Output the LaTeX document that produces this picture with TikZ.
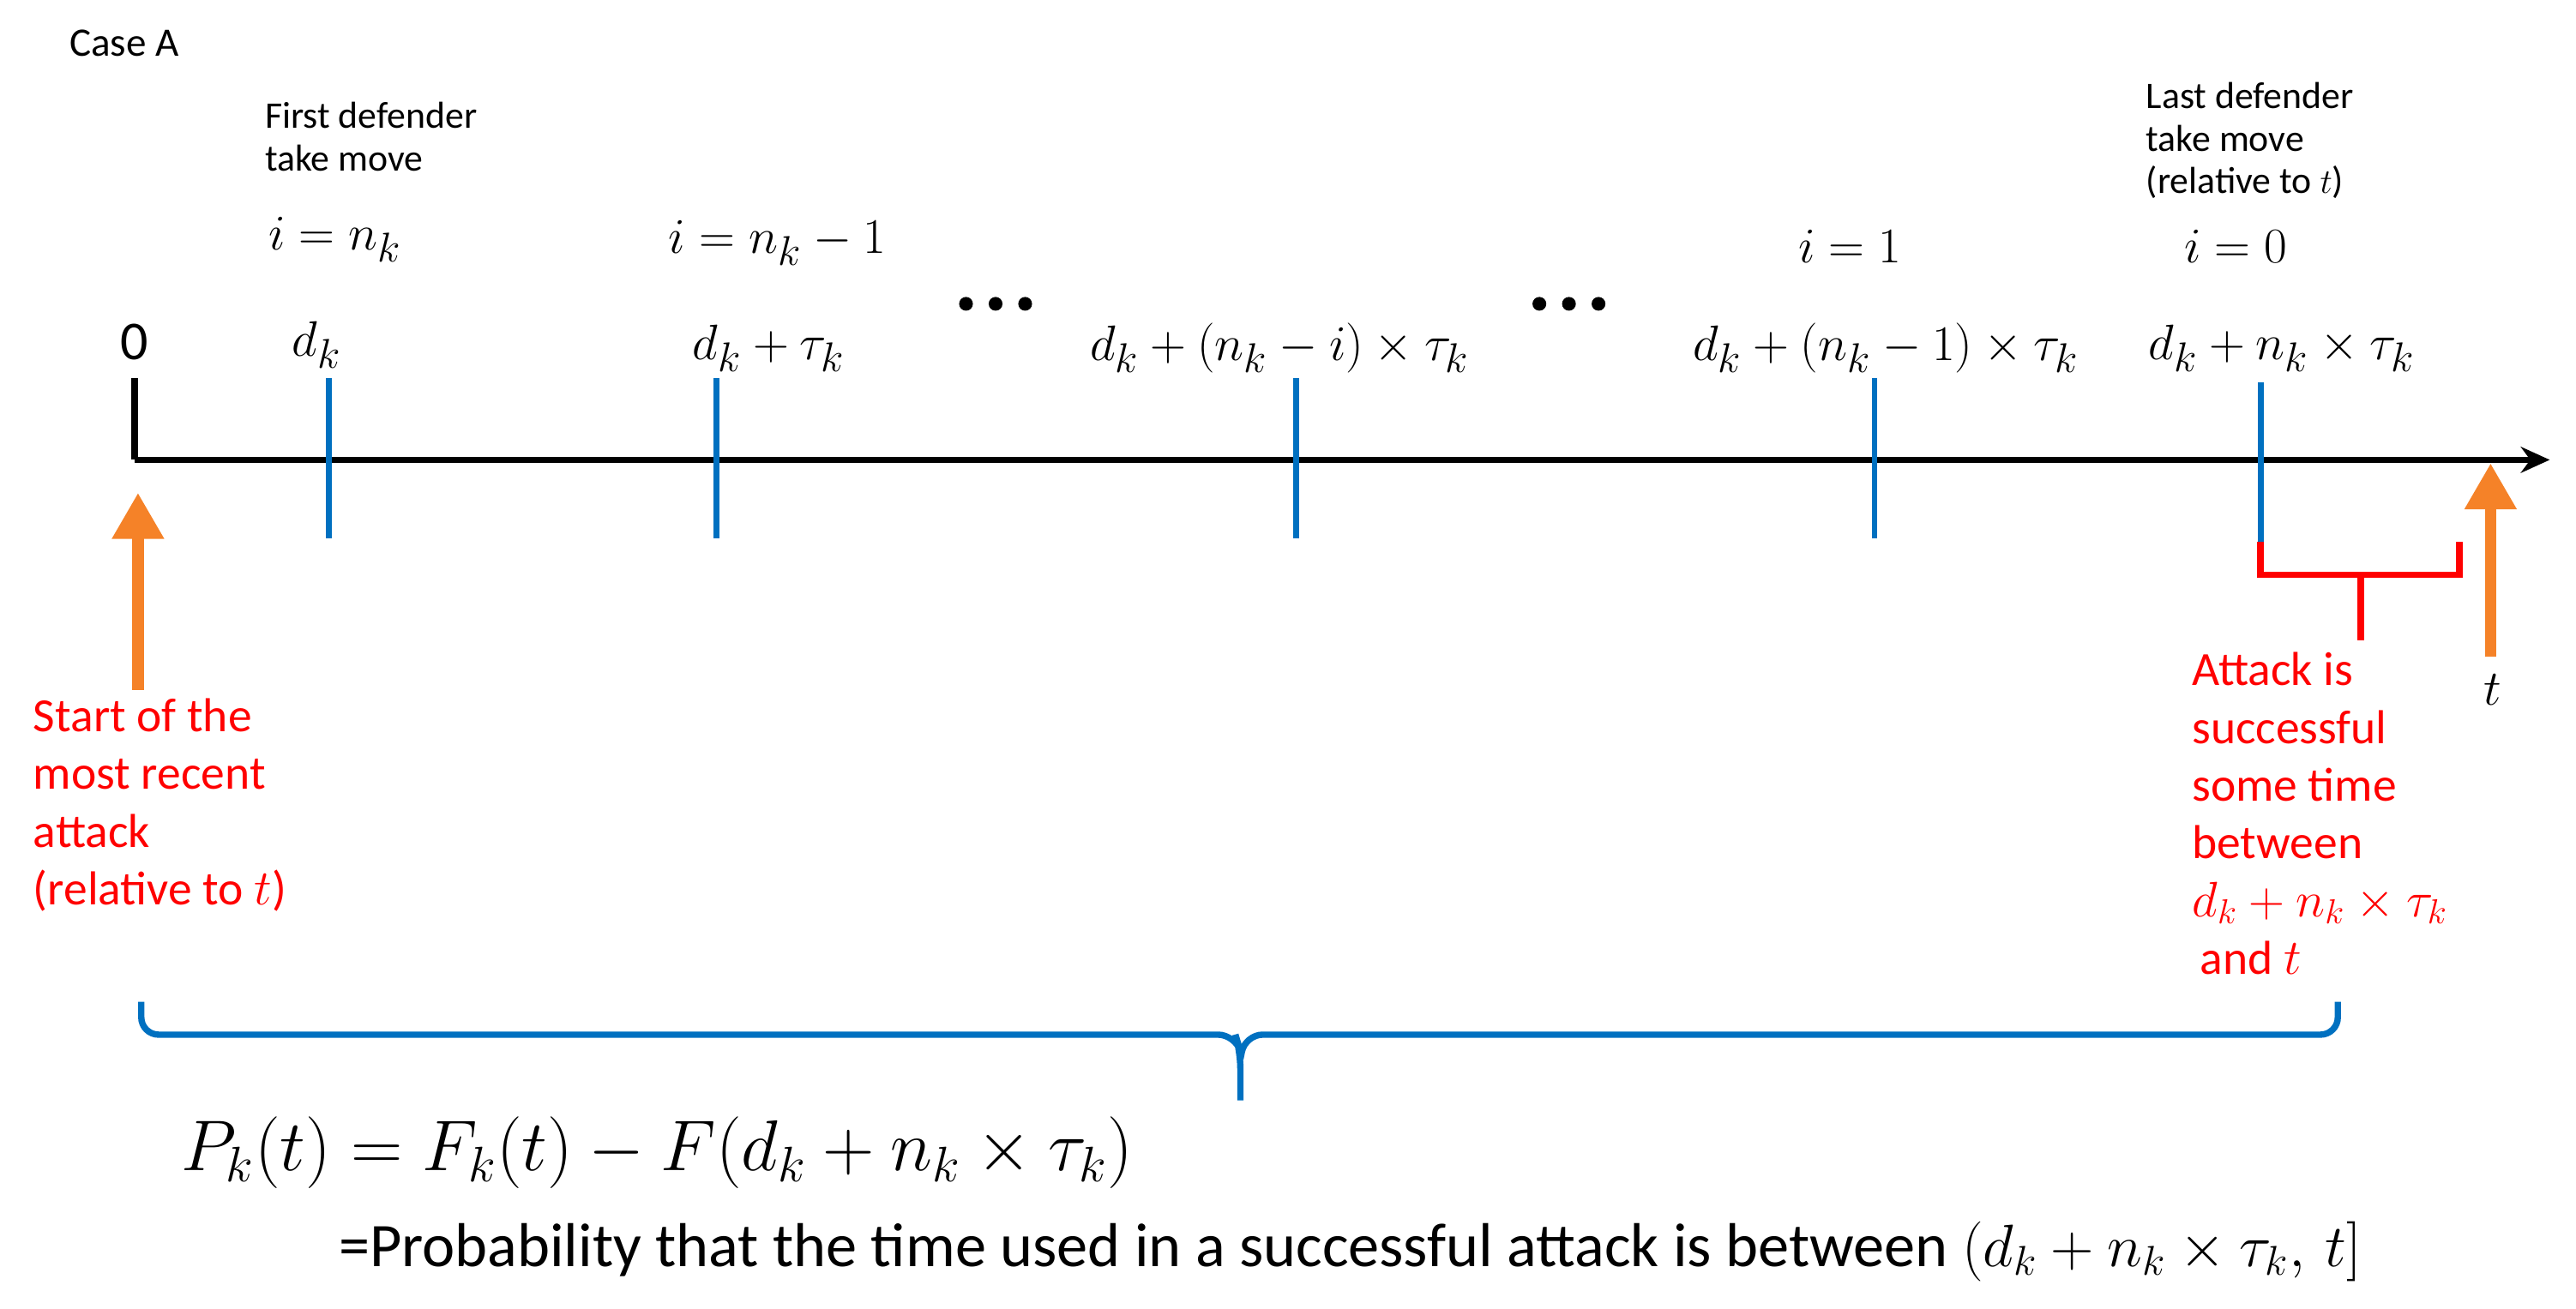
\documentclass[tikz,border=0pt]{standalone}
\usepackage{fontspec}
\setmainfont{Carlito}
\usetikzlibrary{arrows.meta}
\definecolor{mblue}{RGB}{0,112,192}
\definecolor{morange}{RGB}{245,130,40}
\begin{document}
\begin{tikzpicture}[x=0.02cm,y=-0.02cm,
  lbl/.style={font=\fontsize{19}{22}\selectfont},
  toptxt/.style={font=\fontsize{13}{14.7}\selectfont,align=left,anchor=north west,inner sep=0},
  redtxt/.style={text=red,font=\fontsize{16.5}{20}\selectfont,align=left,anchor=north west,inner sep=0},
  tickb/.style={mblue,line width=2pt},
  redline/.style={draw=red,line width=2.2pt},
  oarrow/.style={morange,line width=4pt,-{Triangle[length=16pt,width=17pt]}}]
\useasboundingbox (0,0) rectangle (1568,797);
\node[toptxt,font=\fontsize{14}{16}\selectfont] (case) at (42,18) {Case A};
\node[toptxt] (fd) at (161,62) {First defender\\take move};
\node[toptxt] (ld) at (1306,50) {Last defender\\take move\\(relative to $t$)};
% axis
\coordinate (a0) at (82,280);
\coordinate (aend) at (1552,280);
\draw[line width=2pt,-{Stealth[length=10pt,width=9pt]}] (a0) -- (aend);
\draw[line width=2.5pt] (82,230) -- (a0);
\foreach \x in {200,436,789,1141}{
  \draw[tickb] (\x,230) -- (\x,328);}
\draw[tickb] (1376,233) -- (1376,330);
% labels
\node[lbl] (z) at (82,208) {0};
\node[lbl] (l1) at (193,210) {$d_k$};
\node[lbl] (l2) at (468,212) {$d_k+\tau_k$};
\node[lbl] (l3) at (779,212) {$d_k+(n_k-i)\times\tau_k$};
\node[lbl] (l4) at (1148,212) {$d_k+(n_k-1)\times\tau_k$};
\node[lbl] (l5) at (1389,212) {$d_k+n_k\times\tau_k$};
\node[lbl] (i1) at (204,146) {$i=n_k$};
\node[lbl] (i2) at (473,148) {$i=n_k-1$};
\node[lbl] (i3) at (1126,150) {$i=1$};
\node[lbl] (i4) at (1361,150) {$i=0$};
\foreach \c in {588,606,624,937,955,973}{\fill (\c,185) circle (4.2);}
% red bracket
\draw[redline] (1376,330) -- (1376,350) -- (1497,350) -- (1497,330);
\draw[redline] (1437,350) -- (1437,390);
% orange arrows
\draw[oarrow] (84,420) -- (84,300);
\draw[oarrow] (1516,400) -- (1516,282);
\node[lbl] (tt) at (1517,420) {$t$};
\node[redtxt] (start) at (20,425) {Start of the\\most recent\\attack\\(relative to $t$)};
\node[redtxt] (succ) at (1334,397) {Attack is\\successful\\some time\\between\\$d_k+n_k\times\tau_k$\\ \,and $t$};
% blue brace
\draw[mblue,line width=2.2pt,rounded corners=6pt] (86,610) -- (86,630) -- (752,630) -- (755,640) -- (755,670);
\draw[mblue,line width=2.2pt,rounded corners=6pt] (755,645) -- (758,630) -- (1423,630) -- (1423,610);
\node[font=\fontsize{23.4}{27}\selectfont,anchor=west] (pk) at (104,702) {$P_k(t)=F_k(t)-F(d_k+n_k\times\tau_k)$};
\node[font=\fontsize{21.5}{24}\selectfont,anchor=west] (prob) at (200,762) {=Probability that the time used in a successful attack is between {\fontsize{21.5}{24}\selectfont$(d_k+n_k\times\tau_k,\,t]$}};
\end{tikzpicture}
\end{document}
